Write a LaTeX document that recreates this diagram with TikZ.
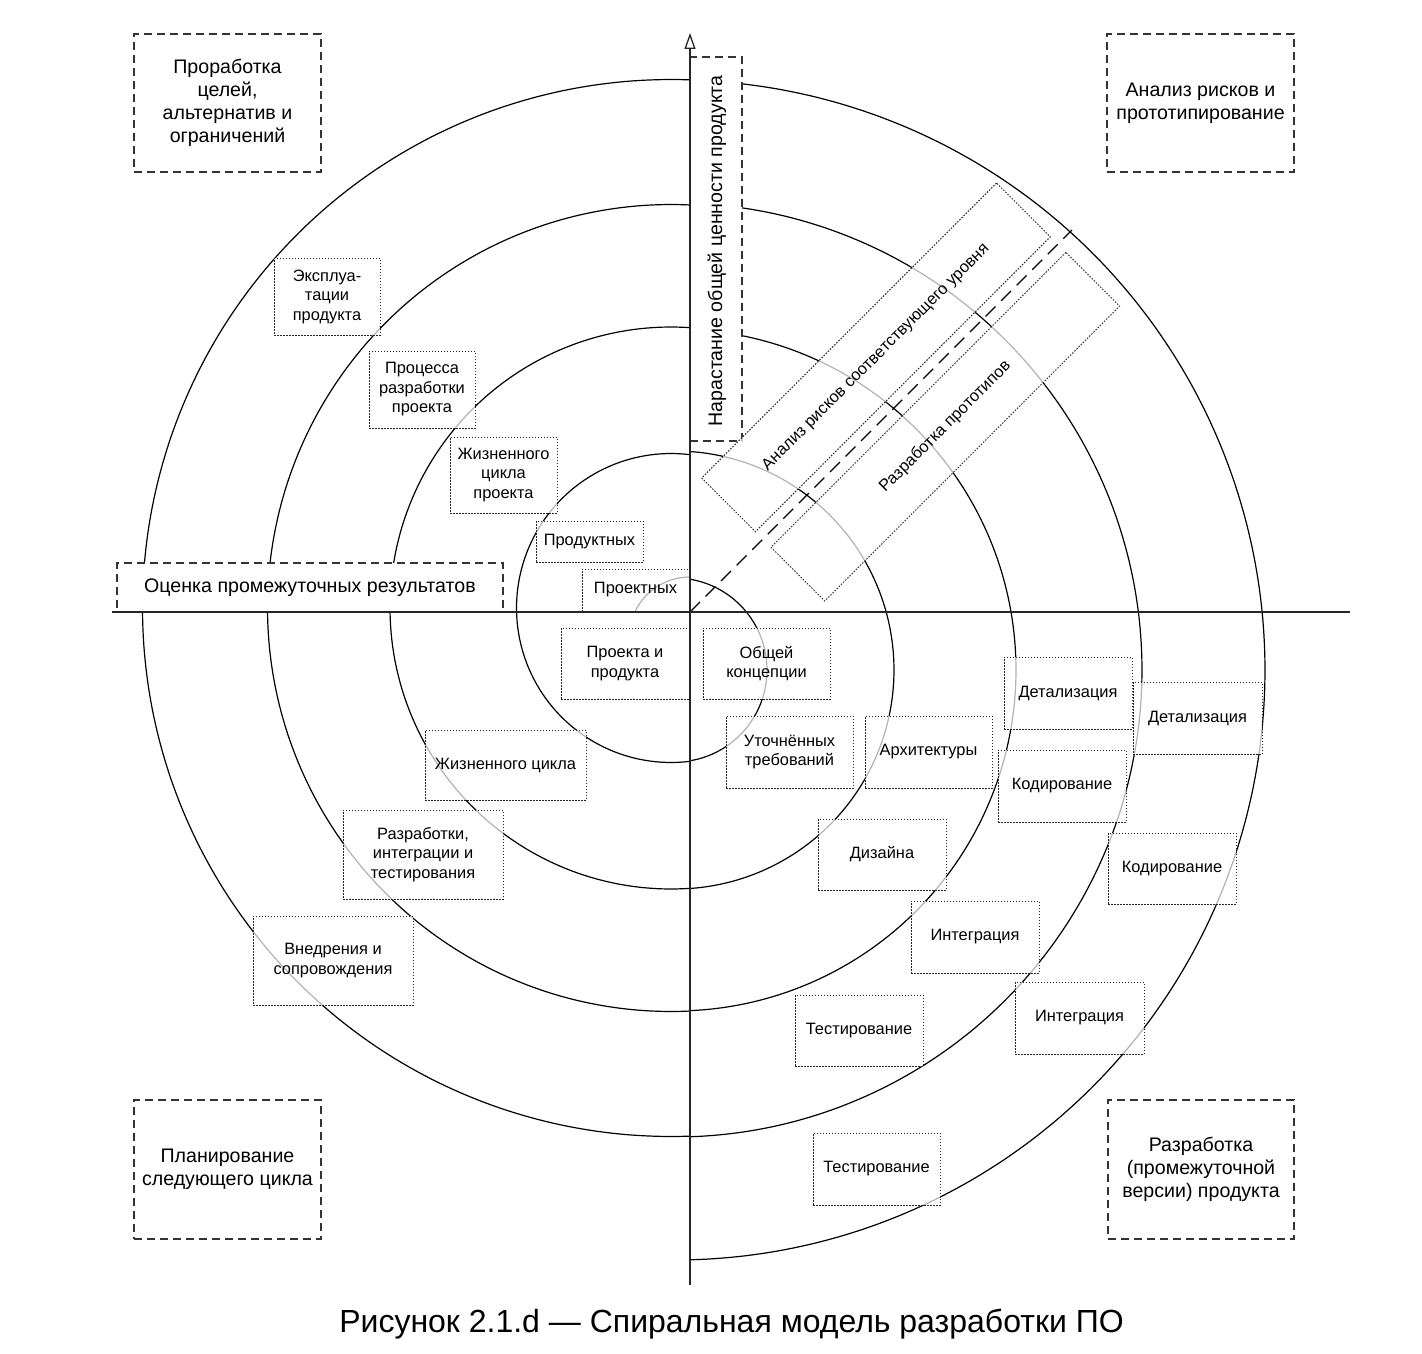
\documentclass[tikz,border=0pt]{standalone}
\usepackage{fontspec}
\setmainfont{Liberation Sans}
\usetikzlibrary{arrows.meta}
\tikzset{
 qbox/.style={draw=black!80, line width=1.3pt, dash pattern=on 8pt off 5pt, fill=white, align=center, inner sep=0pt, font=\fontsize{19.6}{23}\selectfont},
 sbox/.style={draw=black!85, line width=1pt, dash pattern=on 1.5pt off 1.5pt, fill=white, fill opacity=0.7, text opacity=1, align=center, inner sep=0pt, font=\fontsize{16.4}{19.5}\selectfont},
 spiralline/.style={line width=1.2pt, black},
 axisline/.style={line width=1.3pt, black!85},
 diagline/.style={line width=1.2pt, black, dash pattern=on 14pt off 8pt},
}
\begin{document}
\begin{tikzpicture}[x=1pt,y=-1pt]
\useasboundingbox (0,0) rectangle (1422,1354);
\fill[white] (0,0) rectangle (1422,1354);
\coordinate (O) at (690,612);
\coordinate (hl) at (112,612);
\coordinate (hr) at (1350,612);
\coordinate (vb) at (690,1285);
\coordinate (vt) at (690,33);
\coordinate (dEnd) at (1072,230);
% spiral
\draw[spiralline]
 plot[domain=205.3:270, samples=30] ({690+61*cos(\x)},{638+61*sin(\x)})
 -- plot[domain=-80.62:80.62, samples=60] ({675+92*cos(\x)},{670+92*sin(\x)})
 -- plot[domain=82.936:277.064, samples=90] ({671+154.5*cos(\x)},{608+154.5*sin(\x)})
 -- plot[domain=-86.073:86.073, samples=110] ({675+219*cos(\x)},{670+219*sin(\x)})
 -- plot[domain=86.123:273.877, samples=130] ({671+281*cos(\x)},{608+281*sin(\x)})
 -- plot[domain=-87.479:87.479, samples=150] ({675+341*cos(\x)},{670+341*sin(\x)})
 -- plot[domain=87.301:272.699, samples=170] ({671+403.5*cos(\x)},{608+403.5*sin(\x)})
 -- plot[domain=-88.159:88.159, samples=190] ({675+467*cos(\x)},{670+467*sin(\x)})
 -- plot[domain=87.940:272.060, samples=210] ({671+528.5*cos(\x)},{608+528.5*sin(\x)})
 -- plot[domain=-88.543:88.543, samples=230] ({675+590*cos(\x)},{670+590*sin(\x)});
% diagonal
\draw[diagline] (O) -- (dEnd);
% quadrant boxes
\node[qbox, minimum width=187pt, minimum height=138pt] (q1) at (227.5,103) {Проработка\\целей,\\альтернатив и\\ограничений};
\node[qbox, minimum width=187pt, minimum height=138pt] (q2) at (1200.5,103) {Анализ рисков и\\прототипирование};
\node[qbox, minimum width=187pt, minimum height=139pt] (q3) at (227.5,1169.5) {Планирование\\следующего цикла};
\node[qbox, minimum width=186pt, minimum height=139pt] (q4) at (1201,1169.5) {Разработка\\(промежуточной\\версии) продукта};
\node[qbox, minimum width=386pt, minimum height=49pt] (eval) at (310,587.5) {Оценка промежуточных результатов};
\node[qbox, minimum width=52pt, minimum height=384pt] (value) at (716,249) {};
\node[font=\fontsize{19.6}{23}\selectfont, rotate=90] (valuet) at (717,251) {Нарастание общей ценности продукта};
% rotated boxes
\node[sbox, rotate=45, minimum width=417pt, minimum height=76pt] (ra) at (876,357.4) {Анализ рисков соответствующего уровня};
\node[sbox, rotate=45, minimum width=417pt, minimum height=76pt] (rb) at (945.3,426.7) {Разработка прототипов};
% small boxes
\node[sbox, minimum width=106pt, minimum height=77pt] (s1) at (327,296.5) {Эксплуа-\\тации\\продукта};
\node[sbox, minimum width=106pt, minimum height=77pt] (s2) at (422,389.5) {Процесса\\разработки\\проекта};
\node[sbox, minimum width=107pt, minimum height=76pt] (s3) at (503.5,475) {Жизненного\\цикла\\проекта};
\node[sbox, minimum width=107pt, minimum height=41pt] (s4) at (589.5,541.5) {Продуктных};
\node[sbox, minimum width=107pt, minimum height=42pt] (s5) at (635.5,590) {Проектных};
\node[sbox, minimum width=128pt, minimum height=71pt] (s6) at (625,663.5) {Проекта и\\продукта};
\node[sbox, minimum width=161pt, minimum height=70pt] (s7) at (505.5,765) {Жизненного цикла};
\node[sbox, minimum width=160pt, minimum height=89pt] (s8) at (423,854.5) {Разработки,\\интеграции и\\тестирования};
\node[sbox, minimum width=160pt, minimum height=89pt] (s9) at (333,960.5) {Внедрения и\\сопровождения};
\node[sbox, minimum width=127pt, minimum height=71pt] (s10) at (766.5,663.5) {Общей\\концепции};
\node[sbox, minimum width=127pt, minimum height=72pt] (s11) at (789.5,752) {Уточнённых\\требований};
\node[sbox, minimum width=127pt, minimum height=72pt] (s12) at (928.5,752) {Архитектуры};
\node[sbox, minimum width=128pt, minimum height=71pt] (s13) at (882,854.5) {Дизайна};
\node[sbox, minimum width=128pt, minimum height=72pt] (s14) at (975,937) {Интеграция};
\node[sbox, minimum width=128pt, minimum height=71pt] (s15) at (859,1030.5) {Тестирование};
\node[sbox, minimum width=127pt, minimum height=72pt] (s16) at (876.5,1169) {Тестирование};
\node[sbox, minimum width=128pt, minimum height=72pt] (s17) at (1068,693) {Детализация};
\node[sbox, minimum width=128pt, minimum height=72pt] (s18) at (1062,786) {Кодирование};
\node[sbox, minimum width=129pt, minimum height=72pt] (s19) at (1197.5,718) {Детализация};
\node[sbox, minimum width=128pt, minimum height=71pt] (s20) at (1172,868.5) {Кодирование};
\node[sbox, minimum width=129pt, minimum height=72pt] (s21) at (1079.5,1018) {Интеграция};
% axes
\draw[axisline] (hl) -- (hr);
\draw[axisline, -{Triangle[open, length=16pt, width=11pt]}] (vb) -- (vt);
% caption
\node[font=\fontsize{32}{38}\selectfont] (caption) at (731.5,1324) {Рисунок 2.1.d — Спиральная модель разработки ПО};
\end{tikzpicture}
\end{document}
